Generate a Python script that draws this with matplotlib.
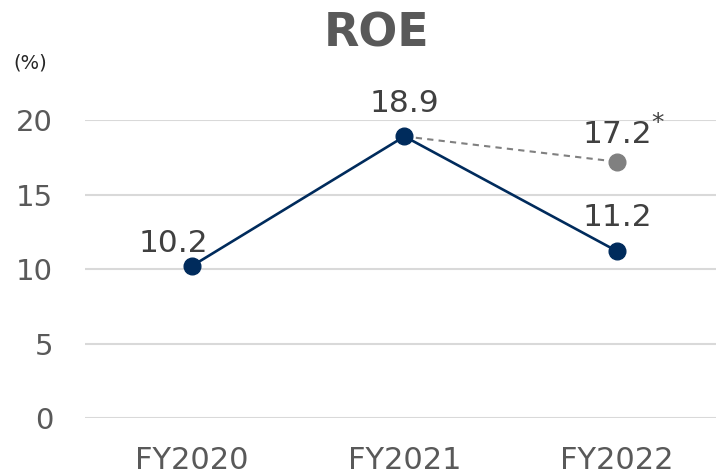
import matplotlib.pyplot as plt

# data
years = ["FY2020", "FY2021", "FY2022"]
roe = [10.2, 18.9, 11.2]
ref_years = ["FY2021", "FY2022"]
roe_ref = [18.9, 17.2]
y_ticks = [0, 5, 10, 15, 20]

# figure parameters
YTICK_SIZE = 21
XTICK_SIZE = 22
LABEL_SIZE = 22.5
NAVY = '#002b5c'
GREY = '#808080'
TEXT = '#404040'

fig = plt.figure(figsize=(7.16, 4.74), dpi=100)
ax = fig.add_axes([0.1187, 0.1181, 0.8813, 0.6287])

x = list(range(len(years)))
x_ref = [years.index(y) for y in ref_years]

# 1st: lines
ax.plot(x_ref, roe_ref, color=GREY, linestyle=(0, (3, 2.5)), linewidth=1.5, zorder=2)
ax.plot(x_ref[-1], roe_ref[-1], 'o', color=GREY, markersize=12, zorder=3, clip_on=False)
ax.plot(x, roe, color=NAVY, linewidth=1.9, marker='o', markersize=12, zorder=4, clip_on=False)

# 2nd: data labels (offsets in points from the marker, baseline aligned)
offsets = [(-13.3, 10), (0, 17.5), (0, 18)]
for xi, v, off in zip(x, roe, offsets):
    ax.annotate(f"{v}", (xi, v), xytext=off, textcoords='offset points',
                ha='center', va='baseline', fontsize=LABEL_SIZE, color=TEXT)
ax.annotate(f"{roe_ref[-1]}", (x_ref[-1], roe_ref[-1]), xytext=(0, 13.7),
            textcoords='offset points', ha='center', va='baseline',
            fontsize=LABEL_SIZE, color=TEXT)
ax.annotate("*", (x_ref[-1], roe_ref[-1]), xytext=(25, 23),
            textcoords='offset points', ha='left', va='baseline',
            fontsize=18, color=TEXT)

# 3rd: axes
ax.set_xlim(-0.503, 2.466)
ax.set_ylim(0, 20)
ax.set_yticks(y_ticks)
ax.set_xticks(x)
ax.set_xticklabels(years)
ax.tick_params(length=0, labelcolor='#595959')
ax.tick_params(axis='y', pad=23, labelsize=YTICK_SIZE)
ax.tick_params(axis='x', pad=20, labelsize=XTICK_SIZE)
ax.grid(axis='y', color='#d9d9d9', linewidth=1.5)
ax.set_axisbelow(True)
for s in ax.spines.values():
    s.set_visible(False)

fig.text(0.526, 0.975, "ROE", ha='center', va='top', fontsize=33,
         fontweight='bold', color='#595959')
fig.text(0.019, 0.848, "(%)", ha='left', va='bottom', fontsize=14, color='#262626')

fig.savefig("out.png", dpi=100)
